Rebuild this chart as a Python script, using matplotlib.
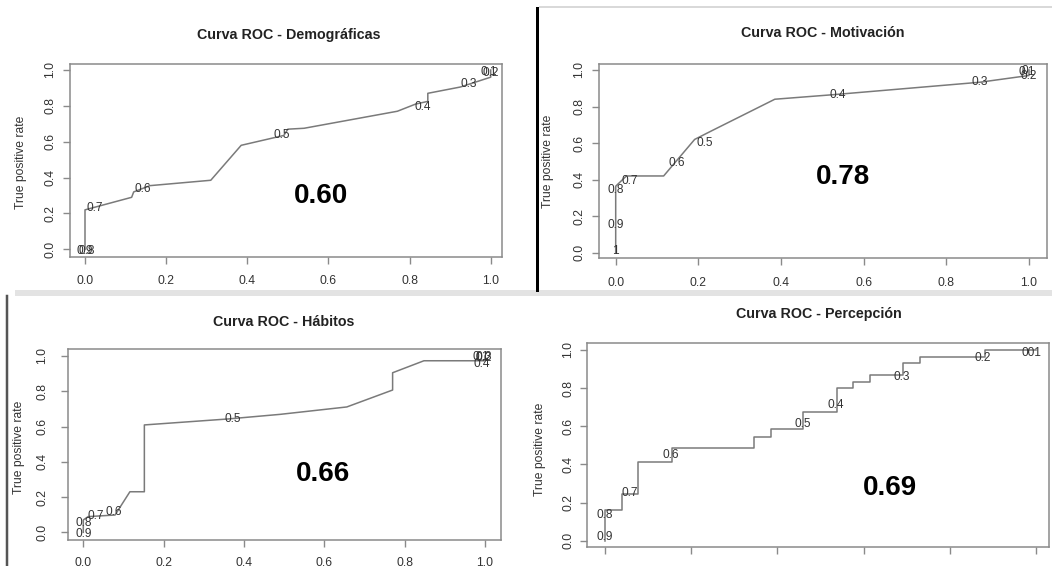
import matplotlib
matplotlib.use("Agg")
import matplotlib.pyplot as plt
from matplotlib.lines import Line2D
from matplotlib.patches import Rectangle

plt.rcParams['font.family'] = ['Liberation Sans', 'DejaVu Sans']

W, H = 1052, 566

# ---------------- data ----------------
titles = ["Curva ROC - Demográficas", "Curva ROC - Motivación",
          "Curva ROC - Hábitos", "Curva ROC - Percepción"]
auc_labels = ["0.60", "0.78", "0.66", "0.69"]
y_label = "True positive rate"
tick_values = [0.0, 0.2, 0.4, 0.6, 0.8, 1.0]
tick_labels = ["0.0", "0.2", "0.4", "0.6", "0.8", "1.0"]

# Demográficas
demo_fpr = [0, 0, 0.115, 0.12, 0.16, 0.31, 0.385, 0.49, 0.50, 0.54, 0.77, 0.815, 0.845, 0.845, 0.925, 1.0, 1.0]
demo_tpr = [0, 0.22, 0.29, 0.32, 0.355, 0.385, 0.58, 0.635, 0.67, 0.675, 0.77, 0.81, 0.825, 0.87, 0.905, 0.96, 1.0]
demo_cut = ["0.9", "0.8", "0.7", "0.6", "0.5", "0.4", "0.3", "0.2", "0.1"]
demo_cut_x = [0.0, 0.005, 0.025, 0.142, 0.485, 0.832, 0.945, 1.0, 0.995]
demo_cut_y = [-0.008, -0.008, 0.229, 0.335, 0.635, 0.795, 0.922, 0.985, 0.99]

# Motivación
moti_fpr = [0, 0, 0.026, 0.116, 0.191, 0.232, 0.385, 0.527, 0.881, 1.0, 1.0]
moti_tpr = [0, 0.364, 0.42, 0.42, 0.62, 0.667, 0.84, 0.865, 0.933, 0.97, 1.0]
moti_cut = ["1", "0.9", "0.8", "0.7", "0.6", "0.5", "0.4", "0.3", "0.2", "0.1", "0"]
moti_cut_x = [0.0, 0.0, 0.0, 0.035, 0.147, 0.215, 0.538, 0.881, 1.0, 0.995, 0.99]
moti_cut_y = [0.01, 0.15, 0.345, 0.395, 0.49, 0.60, 0.865, 0.935, 0.965, 0.99, 0.995]

# Hábitos
habi_fpr = [0, 0, 0.012, 0.079, 0.116, 0.152, 0.152, 0.361, 0.49, 0.656, 0.77, 0.77, 0.848, 1.0, 1.0]
habi_tpr = [0, 0.07, 0.089, 0.098, 0.23, 0.23, 0.609, 0.643, 0.669, 0.711, 0.807, 0.905, 0.973, 0.973, 1.0]
habi_cut = ["0.9", "0.8", "0.7", "0.6", "0.5", "0.4", "0.3", "0.2", "0.1"]
habi_cut_x = [0.0, 0.0, 0.03, 0.077, 0.373, 0.992, 0.996, 0.996, 0.99]
habi_cut_y = [-0.01, 0.05, 0.092, 0.117, 0.643, 0.953, 0.996, 0.99, 0.996]

# Percepción (step curve)
perc_fpr = [0, 0.04, 0.077, 0.155, 0.346, 0.385, 0.459, 0.538, 0.576, 0.615, 0.691, 0.731, 0.882, 1.0]
perc_tpr = [0, 0.161, 0.243, 0.414, 0.485, 0.545, 0.584, 0.676, 0.802, 0.834, 0.869, 0.93, 0.962, 1.0]
perc_cut = ["0.9", "0.8", "0.7", "0.6", "0.5", "0.4", "0.3", "0.2", "001"]
perc_cut_x = [0.0, 0.0, 0.058, 0.152, 0.459, 0.536, 0.688, 0.876, 0.99]
perc_cut_y = [0.02, 0.135, 0.248, 0.449, 0.612, 0.712, 0.857, 0.956, 0.986]

auc_x = [0.582, 0.551, 0.596, 0.661]
auc_y = [0.30, 0.416, 0.33, 0.274]

# ---------------- layout (pixels) ----------------
# box: left, right, top, bottom ; ticks: x0, x1, y0, y1 pixel positions
layout = [
    dict(box=(70, 502, 64, 257), tk=(85, 490.7, 249.3, 70), title=(289, 35.5), ylab=(21, 162),
         ypad=7.3, xpad=11.6, xlabels=True),
    dict(box=(599, 1046.7, 64, 258), tk=(615.7, 1029, 252.7, 70), title=(822.7, 33.3), ylab=(548.3, 161.7),
         ypad=7.0, xpad=11.9, xlabels=True),
    dict(box=(67.7, 501, 349, 540), tk=(83.3, 485, 532.3, 356), title=(284, 322), ylab=(18.6, 447),
         ypad=13.0, xpad=10.4, xlabels=True),
    dict(box=(587.3, 1049, 343.3, 547), tk=(605, 1036, 540.7, 350), title=(818.6, 313.8), ylab=(540.4, 449.5),
         ypad=6.1, xpad=10.0, xlabels=False),
]

curves = [
    (demo_fpr, demo_tpr, demo_cut, demo_cut_x, demo_cut_y, False),
    (moti_fpr, moti_tpr, moti_cut, moti_cut_x, moti_cut_y, False),
    (habi_fpr, habi_tpr, habi_cut, habi_cut_x, habi_cut_y, False),
    (perc_fpr, perc_tpr, perc_cut, perc_cut_x, perc_cut_y, True),
]

BOX_C = "#8a8a8a"
LINE_C = "#7a7a7a"
TXT_C = "#333333"
PX = 72.0 / 100.0  # points per pixel

fig = plt.figure(figsize=(W / 100, H / 100), dpi=100)
fig.patch.set_facecolor("white")

for i, (lay, cur) in enumerate(zip(layout, curves)):
    L, R, T, B = lay["box"]
    x0, x1, y0, y1 = lay["tk"]
    ax = fig.add_axes([L / W, 1 - B / H, (R - L) / W, (B - T) / H])
    sx = (x1 - x0)
    sy = (y0 - y1)
    ax.set_xlim((L - x0) / sx, (R - x0) / sx)
    ax.set_ylim((y0 - B) / sy, (y0 - T) / sy)

    fpr, tpr, cl, cx, cy, step = cur
    if step:
        ax.step(fpr, tpr, where="pre", color=LINE_C, lw=1.1)
    else:
        ax.plot(fpr, tpr, color=LINE_C, lw=1.1)
    for lbl, xx, yy in zip(cl, cx, cy):
        ax.text(xx, yy, lbl, ha="center", va="center", fontsize=8.6, color=TXT_C)

    ax.text(auc_x[i], auc_y[i], auc_labels[i], ha="center", va="center",
            fontsize=20, fontweight="bold", color="black")

    for s in ax.spines.values():
        s.set_color(BOX_C)
        s.set_linewidth(1.1)
    ax.set_xticks(tick_values)
    ax.set_yticks(tick_values)
    if lay["xlabels"]:
        ax.set_xticklabels(tick_labels)
    else:
        ax.set_xticklabels([""] * len(tick_values))
    ax.set_yticklabels(tick_labels, rotation=90, va="center")
    ax.tick_params(axis="both", length=6.7 * PX, width=1.0, color=BOX_C,
                   labelsize=8.7, labelcolor=TXT_C)
    ax.tick_params(axis="x", pad=lay["xpad"] * PX)
    ax.tick_params(axis="y", pad=lay["ypad"] * PX)

    tx, ty = lay["title"]
    fig.text(tx / W, 1 - ty / H, titles[i], ha="center", va="center",
             fontsize=10.3, fontweight="bold", color="#222222")
    lx, ly = lay["ylab"]
    fig.text(lx / W, 1 - ly / H, y_label, ha="center", va="center",
             rotation=90, fontsize=8.7, color=TXT_C)

# separators from the pasted composite
fig.add_artist(Line2D([536.7 / W, 536.7 / W], [1 - 8 / H, 1 - 290 / H], color="black", lw=3 * PX))
fig.add_artist(Line2D([540 / W, 1.0], [1 - 7 / H, 1 - 7 / H], color="#d9d9d9", lw=2 * PX))
fig.add_artist(Rectangle((15 / W, 1 - 296 / H), 1 - 15 / W, 6 / H, transform=fig.transFigure,
                         color="#e3e3e3", lw=0))
fig.add_artist(Line2D([7 / W, 7 / W], [1 - 296 / H, 0], color="#555555", lw=2.5 * PX))

fig.savefig("out.png", dpi=100)
